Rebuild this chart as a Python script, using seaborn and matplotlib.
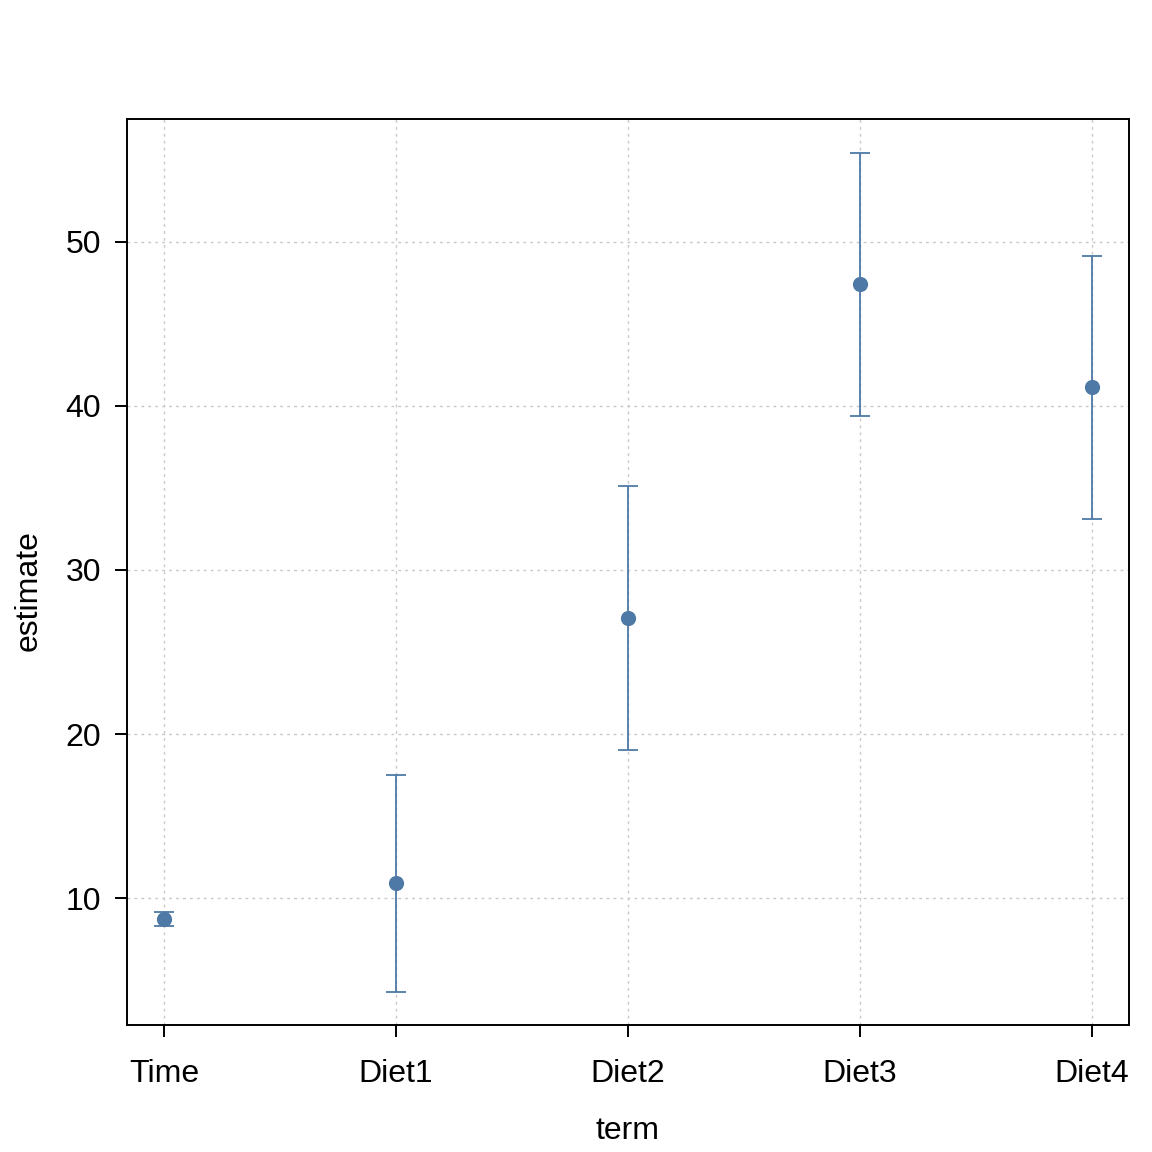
import matplotlib
matplotlib.use("Agg")
import matplotlib.pyplot as plt
import seaborn as sns
import pandas as pd

terms = ["Time", "Diet1", "Diet2", "Diet3", "Diet4"]
estimate = [8.72, 10.91, 27.07, 47.44, 41.16]
conf_low = [8.29, 4.27, 19.02, 39.39, 33.11]
conf_high = [9.15, 17.50, 35.12, 55.43, 49.15]

df = pd.DataFrame({"term": terms, "estimate": estimate,
                   "conf_low": conf_low, "conf_high": conf_high})

sns.set_theme(style="white")
plt.rcParams['font.family'] = ['Liberation Sans', 'DejaVu Sans']

color = "#4E79A7"
fig = plt.figure(figsize=(11.52, 11.52), dpi=100)
ax = fig.add_axes([0.110, 0.110, 0.870, 0.787])

err_lo = [e - l for e, l in zip(df["estimate"], df["conf_low"])]
err_hi = [h - e for e, h in zip(df["estimate"], df["conf_high"])]
ax.errorbar(df["term"], df["estimate"], yerr=[err_lo, err_hi], fmt="none",
            ecolor=color, elinewidth=1.3, capsize=7.5, capthick=1.3, zorder=3)
sns.scatterplot(data=df, x="term", y="estimate", color=color, s=120,
                edgecolor=color, linewidth=0, ax=ax, zorder=4)

ax.set_xlim(-0.16, 4.16)
ax.set_ylim(2.26, 57.5)
ax.set_yticks([10, 20, 30, 40, 50])
ax.grid(True, color="#c8c8c8", linestyle=(0, (2, 3)), linewidth=1.0)
ax.set_axisbelow(True)
for s in ax.spines.values():
    s.set_color("black")
    s.set_linewidth(1.4)
ax.tick_params(axis="both", which="both", direction="out", length=8.6, width=1.4,
               color="black", labelsize=23, labelcolor="black",
               bottom=True, left=True)
ax.tick_params(axis="x", pad=16)
ax.tick_params(axis="y", pad=10)
ax.set_xlabel("term", fontsize=23, color="black")
ax.set_ylabel("estimate", fontsize=23, color="black")
ax.yaxis.set_label_coords(-0.083, 0.479)
ax.xaxis.set_label_coords(0.5, -0.100)

fig.savefig("out.png", dpi=100, facecolor="white")
